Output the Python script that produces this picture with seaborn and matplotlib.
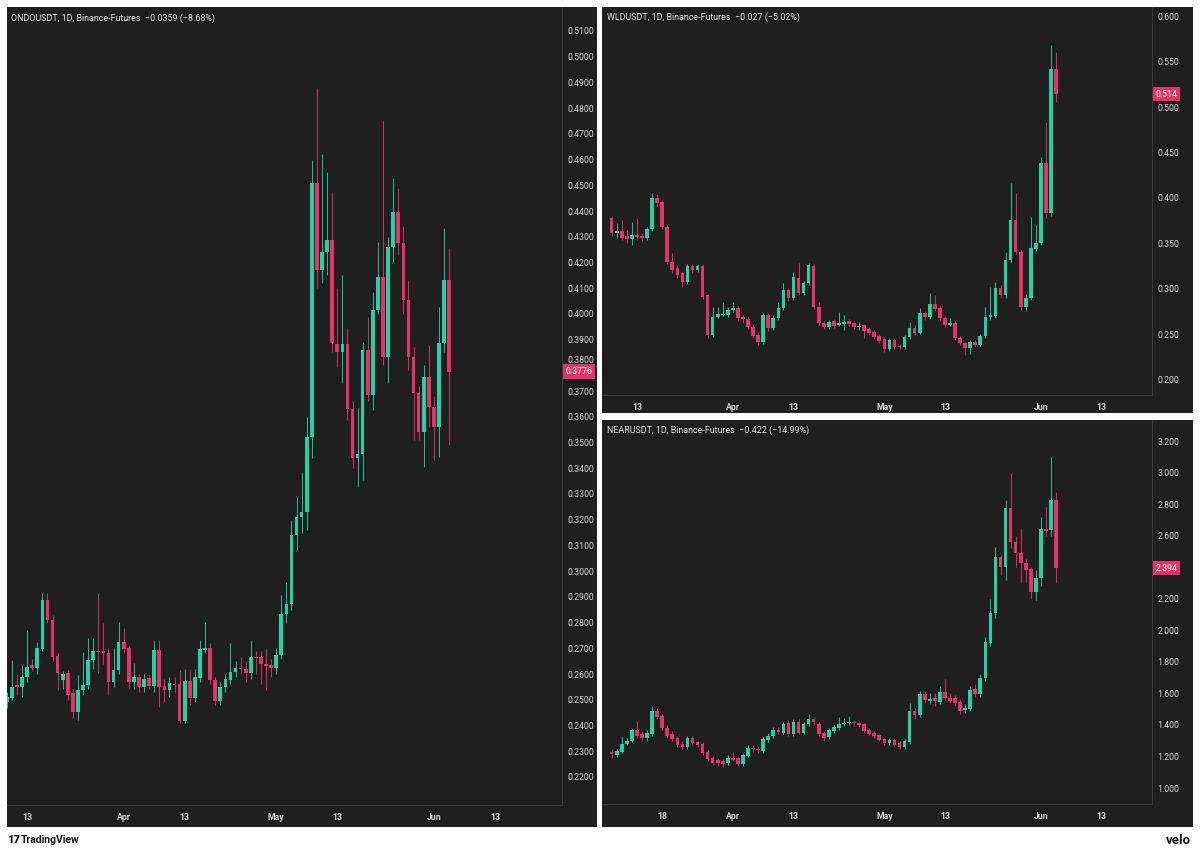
import numpy as np
import pandas as pd
import matplotlib
matplotlib.use("Agg")
import matplotlib.pyplot as plt
import matplotlib.dates as mdates
import matplotlib.transforms as mtransforms
import seaborn as sns

# ---- data (daily candles) ----
dates_wide = pd.date_range("2025-03-08", periods=89, freq="D")   # WLD / NEAR
dates_ondo = pd.date_range("2025-03-09", periods=88, freq="D")   # ONDO

ondo_open = [0.2490, 0.2507, 0.2556, 0.2550, 0.2589, 0.2635, 0.2624, 0.2697, 0.2888, 0.2810,
             0.2670, 0.2575, 0.2604, 0.2526, 0.2452, 0.2538, 0.2557, 0.2655, 0.2689, 0.2688,
             0.2682, 0.2569, 0.2616, 0.2724, 0.2701, 0.2569, 0.2588, 0.2549, 0.2585, 0.2553,
             0.2693, 0.2553, 0.2538, 0.2563, 0.2561, 0.2417, 0.2573, 0.2507, 0.2584, 0.2693,
             0.2701, 0.2577, 0.2495, 0.2549, 0.2577, 0.2608, 0.2625, 0.2620, 0.2604, 0.2668,
             0.2666, 0.2639, 0.2635, 0.2623, 0.2674, 0.2835, 0.2872, 0.3140, 0.3210, 0.3230,
             0.3521, 0.4508, 0.4170, 0.4240, 0.4287, 0.3883, 0.3852, 0.3883, 0.3630, 0.3440,
             0.3455, 0.3860, 0.3685, 0.4015, 0.4144, 0.3832, 0.4260, 0.4396, 0.4276, 0.4054,
             0.3832, 0.3693, 0.3541, 0.3755, 0.3638, 0.3560, 0.3887, 0.4132]
ondo_high = [0.2530, 0.2655, 0.2600, 0.2635, 0.2771, 0.2660, 0.2724, 0.2915, 0.2915, 0.2830,
             0.2680, 0.2610, 0.2616, 0.2540, 0.2596, 0.2686, 0.2740, 0.2740, 0.2915, 0.2798,
             0.2700, 0.2700, 0.2802, 0.2780, 0.2710, 0.2643, 0.2600, 0.2600, 0.2600, 0.2732,
             0.2732, 0.2580, 0.2590, 0.2590, 0.2616, 0.2620, 0.2620, 0.2620, 0.2732, 0.2802,
             0.2720, 0.2590, 0.2570, 0.2600, 0.2721, 0.2650, 0.2666, 0.2650, 0.2732, 0.2690,
             0.2690, 0.2701, 0.2660, 0.2700, 0.2907, 0.2958, 0.3200, 0.3288, 0.3385, 0.3600,
             0.4600, 0.4880, 0.4620, 0.4550, 0.4474, 0.4101, 0.4151, 0.3945, 0.3660, 0.3634,
             0.3890, 0.3988, 0.4085, 0.4280, 0.4754, 0.4300, 0.4528, 0.4490, 0.4340, 0.4130,
             0.3870, 0.3720, 0.3800, 0.3879, 0.3680, 0.4027, 0.4334, 0.4256]
ondo_low = [0.2470, 0.2499, 0.2520, 0.2510, 0.2570, 0.2610, 0.2600, 0.2690, 0.2798, 0.2650,
            0.2538, 0.2540, 0.2500, 0.2429, 0.2421, 0.2520, 0.2540, 0.2620, 0.2604, 0.2640,
            0.2518, 0.2550, 0.2600, 0.2680, 0.2540, 0.2540, 0.2530, 0.2530, 0.2540, 0.2530,
            0.2472, 0.2490, 0.2510, 0.2530, 0.2410, 0.2410, 0.2480, 0.2490, 0.2570, 0.2680,
            0.2560, 0.2480, 0.2480, 0.2530, 0.2560, 0.2590, 0.2600, 0.2570, 0.2580, 0.2600,
            0.2560, 0.2538, 0.2590, 0.2600, 0.2660, 0.2800, 0.2850, 0.3082, 0.3150, 0.3160,
            0.3440, 0.4100, 0.4120, 0.4150, 0.3850, 0.3794, 0.3731, 0.3588, 0.3401, 0.3327,
            0.3354, 0.3660, 0.3626, 0.4000, 0.3800, 0.3731, 0.4200, 0.4230, 0.4000, 0.3780,
            0.3510, 0.3510, 0.3405, 0.3560, 0.3432, 0.3444, 0.3850, 0.3490]
ondo_close = [0.2510, 0.2549, 0.2550, 0.2589, 0.2627, 0.2625, 0.2701, 0.2888, 0.2810, 0.2666,
              0.2604, 0.2600, 0.2518, 0.2452, 0.2538, 0.2557, 0.2655, 0.2689, 0.2685, 0.2682,
              0.2569, 0.2616, 0.2724, 0.2697, 0.2569, 0.2588, 0.2549, 0.2581, 0.2553, 0.2693,
              0.2549, 0.2538, 0.2565, 0.2559, 0.2417, 0.2573, 0.2507, 0.2588, 0.2697, 0.2701,
              0.2577, 0.2495, 0.2549, 0.2581, 0.2608, 0.2623, 0.2620, 0.2604, 0.2666, 0.2663,
              0.2639, 0.2631, 0.2623, 0.2674, 0.2835, 0.2874, 0.3140, 0.3210, 0.3230, 0.3521,
              0.4508, 0.4170, 0.4240, 0.4287, 0.3887, 0.3852, 0.3883, 0.3630, 0.3440, 0.3455,
              0.3860, 0.3685, 0.4015, 0.4144, 0.3832, 0.4260, 0.4396, 0.4276, 0.4054, 0.3832,
              0.3693, 0.3541, 0.3755, 0.3638, 0.3560, 0.3887, 0.4132, 0.3776]

wld_open = [0.3780, 0.3615, 0.3637, 0.3580, 0.3550, 0.3593, 0.3585, 0.3560, 0.3660, 0.4000,
            0.3956, 0.3681, 0.3297, 0.3230, 0.3176, 0.3077, 0.3253, 0.3210, 0.3253, 0.2934,
            0.2495, 0.2692, 0.2714, 0.2714, 0.2769, 0.2791, 0.2692, 0.2670, 0.2582, 0.2495,
            0.2418, 0.2714, 0.2571, 0.2680, 0.2791, 0.2989, 0.2901, 0.3121, 0.2956, 0.3066,
            0.3253, 0.2802, 0.2626, 0.2582, 0.2648, 0.2604, 0.2615, 0.2648, 0.2626, 0.2582,
            0.2604, 0.2560, 0.2527, 0.2484, 0.2451, 0.2341, 0.2440, 0.2370, 0.2363, 0.2473,
            0.2571, 0.2516, 0.2736, 0.2692, 0.2835, 0.2791, 0.2680, 0.2604, 0.2626, 0.2462,
            0.2407, 0.2352, 0.2418, 0.2385, 0.2484, 0.2692, 0.2703, 0.3011, 0.2934, 0.3319,
            0.3758, 0.3407, 0.2802, 0.2901, 0.3440, 0.3505, 0.4385, 0.3835, 0.5418]
wld_high = [0.3800, 0.3725, 0.3758, 0.3650, 0.3736, 0.3780, 0.3620, 0.3680, 0.4055, 0.4045,
            0.3980, 0.3700, 0.3400, 0.3260, 0.3190, 0.3270, 0.3270, 0.3270, 0.3270, 0.2950,
            0.2802, 0.2802, 0.2857, 0.2802, 0.2857, 0.2810, 0.2710, 0.2690, 0.2600, 0.2520,
            0.2740, 0.2740, 0.2710, 0.2857, 0.3066, 0.3010, 0.3187, 0.3286, 0.3090, 0.3290,
            0.3270, 0.2857, 0.2650, 0.2660, 0.2670, 0.2747, 0.2714, 0.2670, 0.2650, 0.2637,
            0.2620, 0.2580, 0.2550, 0.2500, 0.2470, 0.2460, 0.2460, 0.2400, 0.2490, 0.2637,
            0.2600, 0.2791, 0.2760, 0.2956, 0.2930, 0.2810, 0.2700, 0.2680, 0.2650, 0.2480,
            0.2420, 0.2440, 0.2440, 0.2510, 0.2802, 0.3022, 0.3077, 0.3040, 0.3407, 0.4165,
            0.4055, 0.3430, 0.2950, 0.3791, 0.3700, 0.4450, 0.4835, 0.5681, 0.5600]
wld_low = [0.3580, 0.3560, 0.3540, 0.3500, 0.3484, 0.3540, 0.3530, 0.3540, 0.3640, 0.3900,
           0.3660, 0.3270, 0.3180, 0.3120, 0.3022, 0.3050, 0.3180, 0.3190, 0.2890, 0.2462,
           0.2470, 0.2680, 0.2700, 0.2690, 0.2750, 0.2650, 0.2630, 0.2560, 0.2460, 0.2385,
           0.2400, 0.2540, 0.2550, 0.2660, 0.2770, 0.2870, 0.2880, 0.2930, 0.2930, 0.3040,
           0.2780, 0.2600, 0.2560, 0.2560, 0.2570, 0.2590, 0.2549, 0.2590, 0.2560, 0.2549,
           0.2462, 0.2490, 0.2450, 0.2410, 0.2310, 0.2320, 0.2340, 0.2340, 0.2340, 0.2450,
           0.2490, 0.2500, 0.2660, 0.2670, 0.2760, 0.2650, 0.2580, 0.2590, 0.2440, 0.2380,
           0.2275, 0.2290, 0.2360, 0.2370, 0.2460, 0.2660, 0.2680, 0.2900, 0.2900, 0.3290,
           0.3380, 0.2769, 0.2760, 0.2880, 0.3420, 0.3480, 0.3780, 0.3800, 0.5050]
wld_close = [0.3615, 0.3637, 0.3560, 0.3550, 0.3593, 0.3575, 0.3560, 0.3660, 0.4000, 0.3945,
             0.3681, 0.3297, 0.3209, 0.3154, 0.3077, 0.3253, 0.3210, 0.3253, 0.2912, 0.2495,
             0.2692, 0.2725, 0.2725, 0.2769, 0.2791, 0.2681, 0.2670, 0.2582, 0.2484, 0.2418,
             0.2714, 0.2571, 0.2680, 0.2791, 0.2989, 0.2901, 0.3132, 0.2956, 0.3066, 0.3264,
             0.2802, 0.2626, 0.2582, 0.2637, 0.2593, 0.2626, 0.2637, 0.2615, 0.2582, 0.2593,
             0.2538, 0.2516, 0.2473, 0.2429, 0.2341, 0.2440, 0.2363, 0.2363, 0.2473, 0.2571,
             0.2516, 0.2736, 0.2692, 0.2835, 0.2780, 0.2680, 0.2604, 0.2626, 0.2462, 0.2407,
             0.2352, 0.2418, 0.2385, 0.2484, 0.2692, 0.2714, 0.3011, 0.2934, 0.3319, 0.3758,
             0.3407, 0.2802, 0.2901, 0.3450, 0.3505, 0.4385, 0.3835, 0.5418, 0.5140]

near_open = [1.229, 1.210, 1.229, 1.280, 1.300, 1.369, 1.345, 1.318, 1.344, 1.490,
             1.458, 1.382, 1.344, 1.318, 1.280, 1.261, 1.318, 1.293, 1.280, 1.229,
             1.191, 1.178, 1.172, 1.159, 1.191, 1.191, 1.153, 1.204, 1.255, 1.250,
             1.236, 1.306, 1.331, 1.369, 1.350, 1.414, 1.344, 1.420, 1.350, 1.407,
             1.439, 1.407, 1.350, 1.325, 1.363, 1.382, 1.405, 1.410, 1.420, 1.415,
             1.407, 1.369, 1.350, 1.337, 1.312, 1.286, 1.306, 1.286, 1.261, 1.293,
             1.490, 1.465, 1.598, 1.553, 1.570, 1.547, 1.611, 1.573, 1.570, 1.547,
             1.496, 1.503, 1.630, 1.598, 1.700, 1.922, 2.107, 2.463, 2.399, 2.774,
             2.558, 2.488, 2.424, 2.386, 2.246, 2.329, 2.640, 2.634, 2.825]
near_high = [1.248, 1.250, 1.331, 1.320, 1.380, 1.426, 1.360, 1.370, 1.522, 1.510,
             1.470, 1.400, 1.360, 1.330, 1.300, 1.330, 1.330, 1.300, 1.290, 1.240,
             1.200, 1.190, 1.185, 1.210, 1.230, 1.200, 1.225, 1.275, 1.275, 1.265,
             1.325, 1.350, 1.390, 1.390, 1.420, 1.430, 1.435, 1.440, 1.420, 1.470,
             1.450, 1.420, 1.360, 1.380, 1.400, 1.450, 1.445, 1.455, 1.430, 1.425,
             1.415, 1.380, 1.360, 1.345, 1.320, 1.320, 1.315, 1.295, 1.310, 1.541,
             1.510, 1.617, 1.617, 1.600, 1.600, 1.650, 1.693, 1.600, 1.590, 1.560,
             1.530, 1.650, 1.660, 1.720, 1.960, 2.200, 2.526, 2.480, 2.825, 2.996,
             2.600, 2.647, 2.450, 2.400, 2.380, 2.717, 2.780, 3.098, 2.880]
near_low = [1.191, 1.195, 1.220, 1.270, 1.290, 1.320, 1.300, 1.300, 1.330, 1.440,
            1.370, 1.320, 1.300, 1.260, 1.245, 1.250, 1.275, 1.260, 1.210, 1.170,
            1.145, 1.140, 1.135, 1.145, 1.170, 1.140, 1.140, 1.195, 1.230, 1.225,
            1.225, 1.290, 1.320, 1.340, 1.340, 1.330, 1.330, 1.340, 1.340, 1.395,
            1.400, 1.330, 1.300, 1.310, 1.350, 1.370, 1.395, 1.400, 1.395, 1.385,
            1.350, 1.335, 1.320, 1.295, 1.275, 1.275, 1.265, 1.250, 1.250, 1.280,
            1.440, 1.450, 1.540, 1.530, 1.520, 1.530, 1.560, 1.540, 1.520, 1.470,
            1.475, 1.490, 1.580, 1.580, 1.680, 1.900, 2.080, 2.350, 2.316, 2.520,
            2.400, 2.300, 2.300, 2.200, 2.190, 2.280, 2.600, 2.600, 2.297]
near_close = [1.216, 1.236, 1.280, 1.300, 1.369, 1.331, 1.320, 1.350, 1.490, 1.452,
              1.382, 1.331, 1.312, 1.274, 1.261, 1.318, 1.286, 1.274, 1.223, 1.185,
              1.159, 1.159, 1.150, 1.191, 1.180, 1.153, 1.210, 1.255, 1.245, 1.240,
              1.312, 1.331, 1.369, 1.355, 1.407, 1.344, 1.420, 1.350, 1.407, 1.439,
              1.418, 1.344, 1.318, 1.369, 1.388, 1.407, 1.414, 1.420, 1.410, 1.400,
              1.363, 1.344, 1.331, 1.306, 1.286, 1.306, 1.274, 1.261, 1.299, 1.490,
              1.465, 1.598, 1.560, 1.567, 1.550, 1.611, 1.573, 1.553, 1.540, 1.490,
              1.509, 1.623, 1.598, 1.700, 1.929, 2.107, 2.463, 2.399, 2.774, 2.558,
              2.488, 2.424, 2.380, 2.240, 2.329, 2.640, 2.630, 2.825, 2.394]

tick_dates = ["2025-03-13", "2025-04-01", "2025-04-13", "2025-05-01",
              "2025-05-13", "2025-06-01", "2025-06-13"]
tick_labels = ["13", "Apr", "13", "May", "13", "Jun", "13"]
tick_dates_near = ["2025-03-18"] + tick_dates[1:]
tick_labels_near = ["18"] + tick_labels[1:]

# ---- style ----
GREEN = "#22d3a0"
RED = "#e5326b"
BG = "#1f1f1f"
SEP = "#3b3b3b"
TXT = "#d4d4d4"

sns.set_theme(style="dark")
plt.rcParams["font.family"] = ["Roboto", "DejaVu Sans"]

W, H = 1200, 852
fig = plt.figure(figsize=(12, 8.52), dpi=100, facecolor="white")


def rect(x0, y0, x1, y1):
    return [x0 / W, 1 - y1 / H, (x1 - x0) / W, (y1 - y0) / H]


def panel(outer, inner, ylim, xlim_dates, yticks, fmt, tdates, tlabels):
    bg = fig.add_axes(rect(*outer))
    bg.set_facecolor(BG)
    bg.set_xticks([])
    bg.set_yticks([])
    for s in bg.spines.values():
        s.set_visible(False)
    ax = fig.add_axes(rect(*inner))
    ax.set_facecolor("none")
    ax.grid(False)
    ax.set_ylim(*ylim)
    ax.set_xlim(mdates.date2num(pd.Timestamp(xlim_dates[0])),
                mdates.date2num(pd.Timestamp(xlim_dates[1])))
    ax.yaxis.tick_right()
    ax.set_yticks(yticks)
    ax.set_yticklabels([fmt.format(v) for v in yticks])
    ax.set_xticks(mdates.date2num(pd.to_datetime(tdates)))
    ax.set_xticklabels(tlabels)
    ax.tick_params(axis="y", length=0, pad=4, labelsize=6.3, labelcolor=TXT)
    ax.tick_params(axis="x", length=0, pad=6, labelsize=6.3, labelcolor=TXT)
    for lab in ax.get_xticklabels():
        lab.set_fontweight("bold")
    for side in ("top", "left"):
        ax.spines[side].set_visible(False)
    for side in ("right", "bottom"):
        ax.spines[side].set_color(SEP)
        ax.spines[side].set_linewidth(0.8)
    return ax


def candles(ax, dates, o, h, l, c, min_body):
    x = mdates.date2num(dates)
    o, h, l, c = map(np.asarray, (o, h, l, c))
    cols = np.where(c >= o, GREEN, RED)
    ax.vlines(x, l, h, colors=cols, linewidth=0.7, alpha=0.9, zorder=2)
    bottom = np.minimum(o, c)
    height = np.maximum(np.abs(c - o), min_body)
    ax.bar(x, height, bottom=bottom, width=0.72, color=cols, linewidth=0, zorder=3)


def last_price(ax, price, text):
    tr = mtransforms.blended_transform_factory(ax.transAxes, ax.transData)
    ax.text(1.006, price, text, transform=tr, ha="left", va="center",
            fontsize=6.3, color="white", zorder=6, clip_on=False,
            bbox=dict(boxstyle="square,pad=0.3", fc=RED, ec="none"))


# ONDO (left, tall)
ax1 = panel((7, 7, 597, 827), (7, 7, 562, 805), (0.2091, 0.5193),
            ("2025-03-09 00:58", "2025-06-26 05:00"),
            np.round(np.arange(0.22, 0.5101, 0.01), 2), "{:.4f}",
            tick_dates, tick_labels)
candles(ax1, dates_ondo, ondo_open, ondo_high, ondo_low, ondo_close, 0.0004)
last_price(ax1, 0.3776, "0.3776")
# the 0.3800 scale label sits just above the last-price tag, as in the original
for lab in ax1.get_yticklabels():
    if lab.get_text() == "0.3800":
        lab.set_va("bottom")

# WLD (top right)
ax2 = panel((602, 7, 1193, 413), (602, 7, 1152, 395), (0.1835, 0.6099),
            ("2025-03-06 02:00", "2025-06-23 00:00"),
            np.round(np.arange(0.20, 0.6001, 0.05), 2), "{:.3f}",
            tick_dates, tick_labels)
candles(ax2, dates_wide, wld_open, wld_high, wld_low, wld_close, 0.0012)
last_price(ax2, 0.514, "0.514")

# NEAR (bottom right)
ax3 = panel((602, 420, 1193, 827), (602, 420, 1152, 804), (0.8987, 3.3335),
            ("2025-03-06 02:00", "2025-06-23 00:00"),
            np.round(np.arange(1.0, 3.2001, 0.2), 1), "{:.3f}",
            tick_dates_near, tick_labels_near)
candles(ax3, dates_wide, near_open, near_high, near_low, near_close, 0.007)
last_price(ax3, 2.394, "2.394")

# headers
hdr = dict(fontsize=6.4, color="#e6e6e6", va="center", ha="left")
fig.text(11 / W, 1 - 18 / H, "ONDOUSDT, 1D, Binance-Futures  \u22120.0359 (\u22128.68%)", **hdr)
fig.text(607 / W, 1 - 17 / H, "WLDUSDT, 1D, Binance-Futures  \u22120.027 (\u22125.02%)", **hdr)
fig.text(607 / W, 1 - 430 / H, "NEARUSDT, 1D, Binance-Futures  \u22120.422 (\u221214.99%)", **hdr)

# footer
fig.text(7 / W, 1 - 840 / H, "17", fontsize=8, fontweight="heavy", color="#131313",
         va="center", ha="left")
fig.text(21 / W, 1 - 840 / H, "TradingView", fontsize=7.5, fontweight="bold",
         color="#131313", va="center", ha="left")
fig.text(1191 / W, 1 - 840 / H, "velo", fontsize=9.5, fontweight="bold",
         color="#131313", va="center", ha="right")

fig.savefig("out.png", dpi=100, facecolor="white")
